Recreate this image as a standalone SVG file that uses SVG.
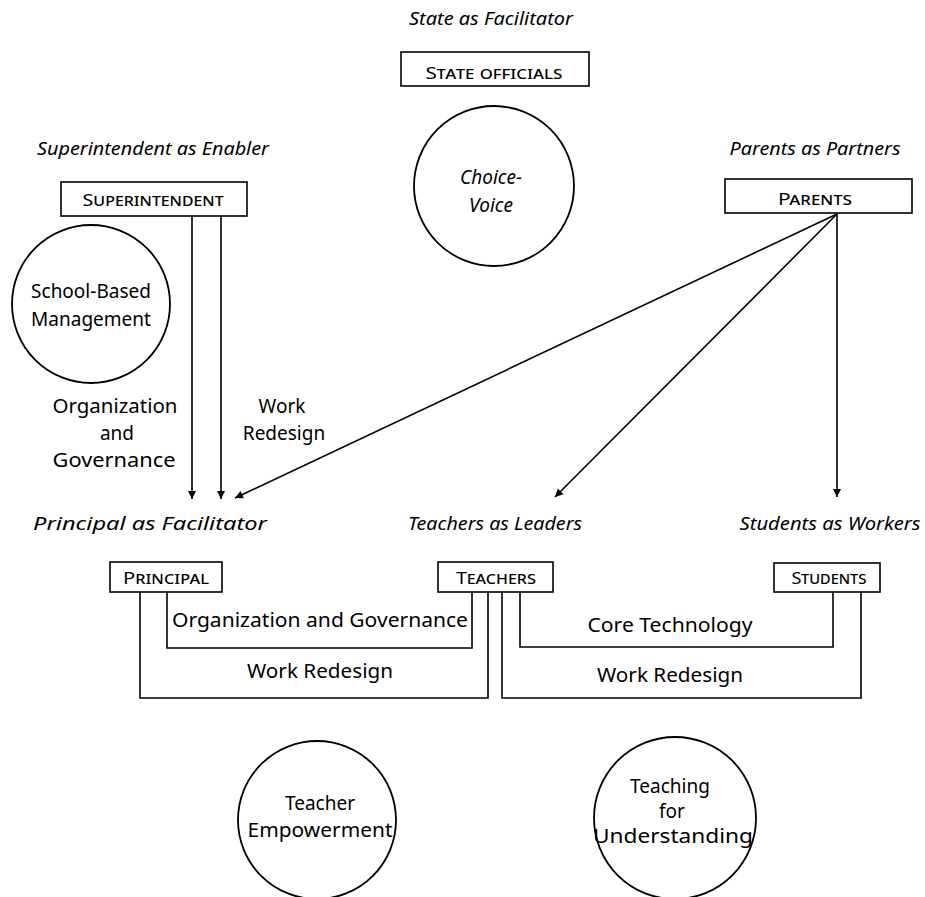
<svg xmlns="http://www.w3.org/2000/svg" width="925" height="897" viewBox="0 0 925 897">
<defs>
<marker id="arr" viewBox="0 0 10 10" refX="10" refY="5" markerWidth="8" markerHeight="9" markerUnits="userSpaceOnUse" orient="auto">
<path d="M0,0 L10,5 L0,10 z" fill="#000"/>
</marker>
<style>
.bg{fill:#fff}
.box{fill:#fff;stroke:#000;stroke-width:1.6}
.circ{fill:none;stroke:#000;stroke-width:1.8}
.ln{fill:none;stroke:#000;stroke-width:1.6}
.arrow{fill:none;stroke:#000;stroke-width:1.6;marker-end:url(#arr)}
.title{font-family:"Noto Sans","Open Sans",sans-serif;font-style:italic;font-size:18px;fill:#000;text-anchor:middle}
.lbl{font-family:"Noto Sans","Open Sans",sans-serif;font-variant:small-caps;font-size:17px;fill:#000;text-anchor:middle}
.txt{font-family:"Noto Sans","Open Sans",sans-serif;font-size:19px;fill:#000;text-anchor:middle}
.itx{font-family:"Noto Sans","Open Sans",sans-serif;font-style:italic;font-size:19px;fill:#000;text-anchor:middle}
</style>
</defs>
<rect class="bg" x="0" y="0" width="925" height="897"/>

<g id="connectors">
<line class="arrow" x1="192" y1="216" x2="192" y2="499"/>
<line class="arrow" x1="221" y1="216" x2="221" y2="499"/>
<line class="arrow" x1="837" y1="214" x2="235" y2="498"/>
<line class="arrow" x1="837" y1="214" x2="555" y2="497"/>
<line class="arrow" x1="837" y1="214" x2="837" y2="497"/>
<polyline class="ln" points="167,592 167,648 472,648 472,592"/>
<polyline class="ln" points="140,592 140,698 488,698 488,592"/>
<polyline class="ln" points="520,592 520,647 833,647 833,592"/>
<polyline class="ln" points="502,592 502,698 861,698 861,592"/>
<text class="txt" x="115" y="413" textLength="125" lengthAdjust="spacingAndGlyphs">Organization</text>
<text class="txt" x="117" y="440">and</text>
<text class="txt" x="114" y="467" textLength="123" lengthAdjust="spacingAndGlyphs">Governance</text>
<text class="txt" x="282" y="413">Work</text>
<text class="txt" x="284" y="440">Redesign</text>
<text class="txt" x="320" y="627" textLength="296" lengthAdjust="spacingAndGlyphs">Organization and Governance</text>
<text class="txt" x="320" y="678" textLength="146" lengthAdjust="spacingAndGlyphs">Work Redesign</text>
<text class="txt" x="670" y="632" textLength="165" lengthAdjust="spacingAndGlyphs">Core Technology</text>
<text class="txt" x="670" y="682" textLength="146" lengthAdjust="spacingAndGlyphs">Work Redesign</text>
</g>

<g id="state">
<text class="title" x="491" y="25" textLength="164" lengthAdjust="spacingAndGlyphs">State as Facilitator</text>
<rect class="box" x="401" y="52" width="188" height="34"/>
<text class="lbl" x="494" y="79" textLength="137" lengthAdjust="spacingAndGlyphs">State officials</text>
</g>

<g id="choice-voice">
<circle class="circ" cx="494" cy="186" r="80"/>
<text class="itx" x="491" y="184">Choice-</text>
<text class="itx" x="491" y="212">Voice</text>
</g>

<g id="superintendent">
<text class="title" x="153" y="155" textLength="232" lengthAdjust="spacingAndGlyphs">Superintendent as Enabler</text>
<rect class="box" x="61" y="182" width="186" height="34"/>
<text class="lbl" x="153" y="206" textLength="141" lengthAdjust="spacingAndGlyphs">Superintendent</text>
</g>

<g id="school-based">
<circle class="circ" cx="91" cy="304" r="79"/>
<text class="txt" x="91" y="298">School-Based</text>
<text class="txt" x="91" y="326">Management</text>
</g>

<g id="parents">
<text class="title" x="815" y="155" textLength="171" lengthAdjust="spacingAndGlyphs">Parents as Partners</text>
<rect class="box" x="725" y="179" width="187" height="34"/>
<text class="lbl" x="815" y="205" textLength="74" lengthAdjust="spacingAndGlyphs">Parents</text>
</g>

<g id="principal">
<text class="title" x="150" y="530" textLength="234" lengthAdjust="spacingAndGlyphs">Principal as Facilitator</text>
<rect class="box" x="110" y="562" width="112" height="30"/>
<text class="lbl" x="166" y="584" textLength="86" lengthAdjust="spacingAndGlyphs">Principal</text>
</g>

<g id="teachers">
<text class="title" x="495" y="530" textLength="174" lengthAdjust="spacingAndGlyphs">Teachers as Leaders</text>
<rect class="box" x="438" y="562" width="115" height="30"/>
<text class="lbl" x="496" y="584" textLength="80" lengthAdjust="spacingAndGlyphs">Teachers</text>
</g>

<g id="students">
<text class="title" x="830" y="530" textLength="181" lengthAdjust="spacingAndGlyphs">Students as Workers</text>
<rect class="box" x="774" y="563" width="106" height="29"/>
<text class="lbl" x="829" y="584" textLength="75" lengthAdjust="spacingAndGlyphs">Students</text>
</g>

<g id="teacher-empowerment">
<circle class="circ" cx="317" cy="820" r="79"/>
<text class="txt" x="320" y="810">Teacher</text>
<text class="txt" x="320" y="837" textLength="145" lengthAdjust="spacingAndGlyphs">Empowerment</text>
</g>

<g id="teaching-understanding">
<circle class="circ" cx="675" cy="818" r="81"/>
<text class="txt" x="670" y="793">Teaching</text>
<text class="txt" x="672" y="818">for</text>
<text class="txt" x="673" y="843" textLength="160" lengthAdjust="spacingAndGlyphs">Understanding</text>
</g>
</svg>
